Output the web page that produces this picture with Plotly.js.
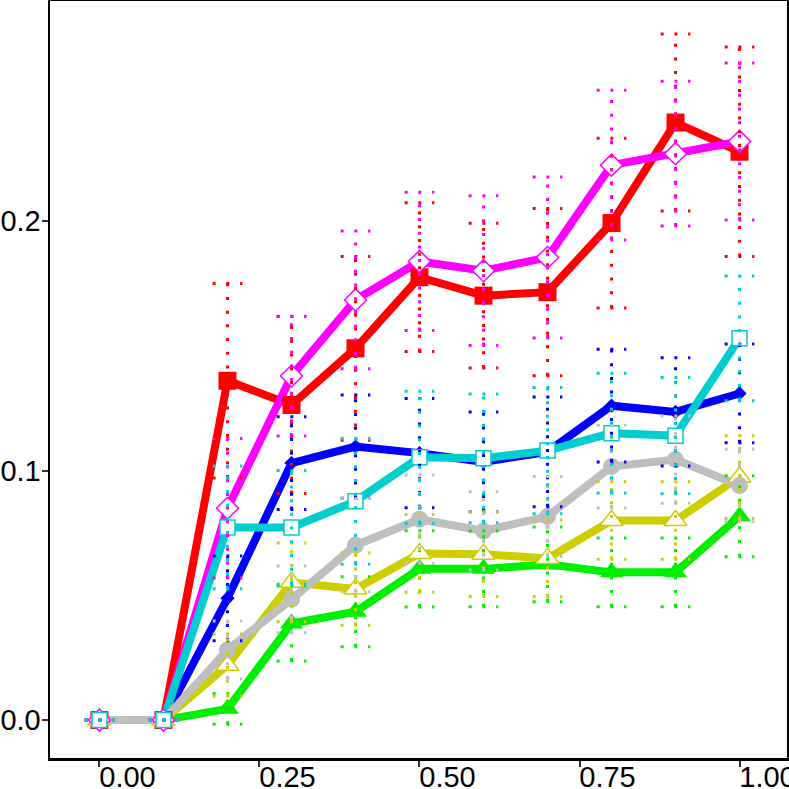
<!DOCTYPE html>
<html>
<head>
<meta charset="utf-8">
<script src="https://cdn.plot.ly/plotly-3.0.1.min.js"></script>
<style>
  html, body { margin: 0; padding: 0; background: #fff; }
  #chart { width: 789px; height: 789px; }
</style>
</head>
<body>
<div id="chart"></div>
<script>
// x positions shared by every series
const xs = [0, 0.1, 0.2, 0.3, 0.4, 0.5, 0.6, 0.7, 0.8, 0.9, 1.0];

// series means and error half-widths
const redY     = [0, 0, 0.136, 0.1263, 0.149, 0.1775, 0.1701, 0.1715, 0.1992, 0.2395, 0.2278];
const redErr   = [0, 0, 0.039, 0.0355, 0.0368, 0.0298, 0.029, 0.0335, 0.034, 0.0355, 0.042];
const magY     = [0, 0, 0.0849, 0.1379, 0.1684, 0.1838, 0.1801, 0.1854, 0.2224, 0.227, 0.2319];
const magErr   = [0, 0, 0.028, 0.024, 0.0276, 0.0277, 0.030, 0.0323, 0.030, 0.029, 0.0315];
const blueY    = [0, 0, 0.0488, 0.1030, 0.1096, 0.107, 0.1035, 0.1075, 0.126, 0.1235, 0.1309];
const blueErr  = [0, 0, 0.017, 0.0186, 0.0207, 0.0219, 0.020, 0.022, 0.0226, 0.0217, 0.0198];
const cyanY    = [0, 0, 0.0772, 0.0772, 0.0877, 0.1053, 0.1049, 0.108, 0.115, 0.114, 0.153];
const cyanErr  = [0, 0, 0.0246, 0.0228, 0.0252, 0.0265, 0.0258, 0.0253, 0.024, 0.0233, 0.025];
const greyY    = [0, 0, 0.0281, 0.0484, 0.0701, 0.0805, 0.0758, 0.0816, 0.1016, 0.1044, 0.0940];
const greyErr  = [0, 0, 0.0116, 0.0134, 0.0187, 0.0177, 0.0157, 0.016, 0.0166, 0.0175, 0.0145];
const yelY     = [0, 0, 0.022, 0.0552, 0.0525, 0.0668, 0.0665, 0.0648, 0.080, 0.080, 0.0974];
const yelErr   = [0, 0, 0.0125, 0.0158, 0.0145, 0.0156, 0.017, 0.0154, 0.0155, 0.0155, 0.0166];
const greenY   = [0, 0, 0.0045, 0.0387, 0.0434, 0.0606, 0.0606, 0.0624, 0.0592, 0.0592, 0.0817];
const greenErr = [0, 0, 0.0062, 0.015, 0.014, 0.0153, 0.0152, 0.015, 0.0138, 0.0138, 0.0162];

const xTicks = [0, 0.25, 0.5, 0.75, 1.0];
const yTicks = [0, 0.1, 0.2];

const FONT = "Liberation Sans, Arial, Helvetica, sans-serif";
const CAP_HALF = 0.0232;   // cap half width in x units (about 15px)

// style per series
const series = {
  red:   { y: redY,   e: redErr,   color: "#FF0000", sym: "square",      size: 18, fill: "#FF0000" },
  blue:  { y: blueY,  e: blueErr,  color: "#0000FF", sym: "diamond",     size: 11, fill: "#0000FF" },
  green: { y: greenY, e: greenErr, color: "#00EE00", sym: "triangle-up", size: 20, fill: "#00EE00" },
  yel:   { y: yelY,   e: yelErr,   color: "#CDCD00", sym: "triangle-up", size: 20, fill: "#FFFFFF" },
  grey:  { y: greyY,  e: greyErr,  color: "#BEBEBE", sym: "circle",      size: 17, fill: "#BEBEBE" },
  mag:   { y: magY,   e: magErr,   color: "#FF00FF", sym: "diamond",     size: 17, fill: "#FFFFFF" },
  cyan:  { y: cyanY,  e: cyanErr,  color: "#00CDCD", sym: "square",      size: 15, fill: "#FFFFFF" }
};

const lineOrder = ["red", "blue", "green", "yel", "mag", "cyan", "grey"];
const pointOrder = ["red", "blue", "green", "yel", "grey", "mag", "cyan"];

// dotted error bars built from the mean and error arrays
function errorTrace(s) {
  const ex = [], ey = [];
  xs.forEach((x, i) => {
    const lo = s.y[i] - s.e[i], hi = s.y[i] + s.e[i];
    ex.push(x, x, null, x - CAP_HALF, x + CAP_HALF, null, x - CAP_HALF, x + CAP_HALF, null);
    ey.push(lo, hi, null, hi, hi, null, lo, lo, null);
  });
  return {
    x: ex, y: ey, type: "scatter", mode: "lines", hoverinfo: "skip",
    line: { color: s.color, width: 3, dash: "3px,10.7px" }
  };
}

const traces = [];
lineOrder.forEach(k => {
  const s = series[k];
  traces.push({ x: xs, y: s.y, type: "scatter", mode: "lines",
    line: { color: s.color, width: 8 } });
});
pointOrder.forEach(k => {
  const s = series[k];
  traces.push({ x: xs, y: s.y, type: "scatter", mode: "markers",
    marker: { symbol: s.sym, size: s.size, color: s.fill,
      line: { color: s.color, width: s.fill === "#FFFFFF" ? 1.5 : 0 } } });
});
pointOrder.forEach(k => traces.push(errorTrace(series[k])));

const axisBase = {
  showline: true, mirror: true, linecolor: "#000", linewidth: 2.5,
  showgrid: false, zeroline: false,
  ticks: "outside", ticklen: 6, tickwidth: 2, tickcolor: "#333",
  tickfont: { family: FONT, size: 29, color: "#000" },
  ticklabeloverflow: "allow"
};

const layout = {
  width: 789, height: 789,
  margin: { l: 50, r: 2, t: 1, b: 31 },
  paper_bgcolor: "#fff", plot_bgcolor: "#fff",
  showlegend: false,
  xaxis: Object.assign({}, axisBase, {
    range: [-0.0773, 1.0742], tickvals: xTicks, tickformat: ".2f",
    ticklabelshift: 28, ticklabelstandoff: -14
  }),
  yaxis: Object.assign({}, axisBase, {
    range: [-0.0152, 0.2882], tickvals: yTicks, tickformat: ".1f",
    ticklabelstandoff: -5
  })
};

Plotly.newPlot("chart", traces, layout, { displayModeBar: false, staticPlot: true });
</script>
</body>
</html>
